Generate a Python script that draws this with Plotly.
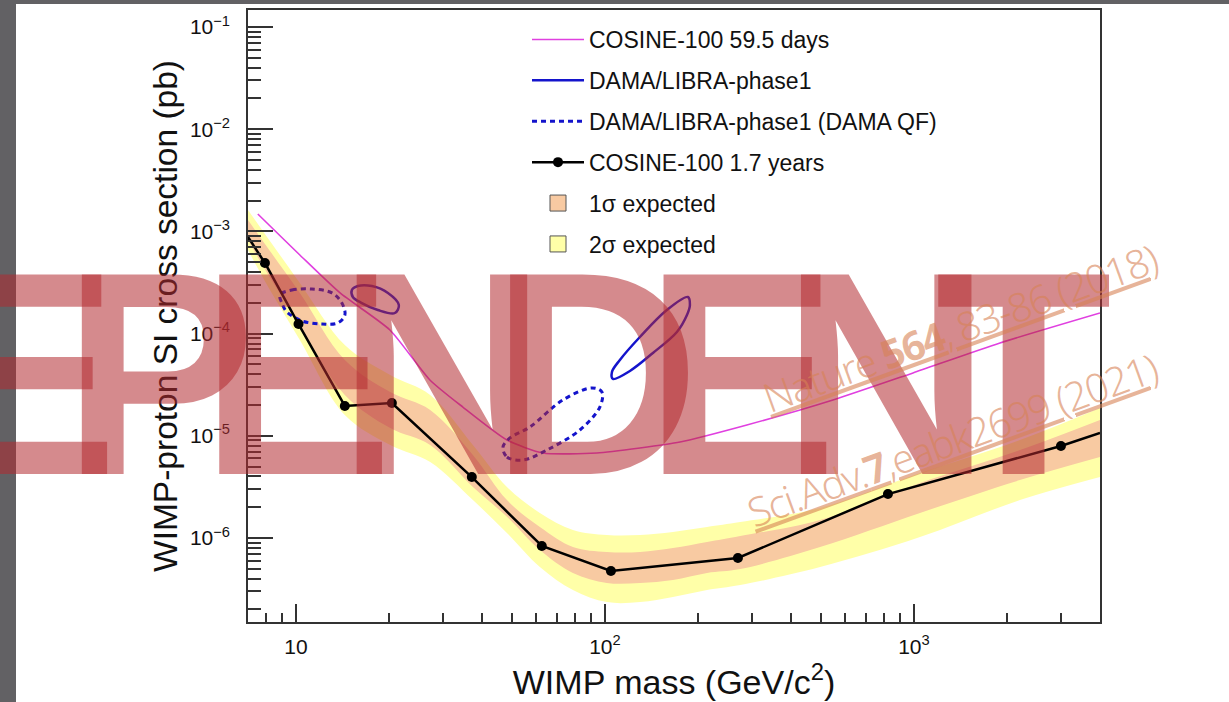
import math
import plotly.graph_objects as go

# ---------------- data ----------------
# COSINE-100 1.7 years observed limit (marked points)
obs_mass = [7.94, 10.2, 14.4, 20.45, 37.1, 62.5, 104.6, 269.4, 823.9, 2990]
obs_xsec = [4.91e-4, 1.24e-4, 1.96e-5, 2.09e-5, 3.95e-6, 8.35e-7, 4.75e-7, 6.37e-7, 2.69e-6, 7.95e-6]
# continuation of the limit curve to the frame edges
obs_edge_mass = [7.0, 4000]
obs_edge_xsec = [8.81e-4, 1.065e-5]

# COSINE-100 59.5 days limit
cos59_mass = [7.53, 10.3, 13.9, 20.15, 27.15, 34.7, 48.2, 63.0, 94.2, 129.8, 175, 288, 547, 993, 1898, 4000]
cos59_xsec = [1.48e-3, 5.88e-4, 2.50e-4, 1.085e-4, 3.52e-5, 1.91e-5, 9.1e-6, 6.79e-6, 6.79e-6,
              7.6e-6, 8.70e-6, 1.276e-5, 2.24e-5, 4.12e-5, 8.09e-5, 1.59e-4]

# DAMA/LIBRA-phase1 contours
dama_low_mass = [15.18, 15.87, 17.62, 19.86, 21.54, 20.91, 18.42, 16.35, 15.29, 15.18]
dama_low_xsec = [2.67e-4, 2.92e-4, 2.92e-4, 2.50e-4, 1.905e-4, 1.59e-4, 1.70e-4, 1.99e-4, 2.28e-4, 2.67e-4]
dama_high_mass = [106.2, 105.4, 111.8, 129.8, 158.7, 185.6, 188.4, 184.3, 171.0, 143.0, 120.5, 106.2]
dama_high_xsec = [3.60e-5, 4.21e-5, 5.52e-5, 9.26e-5, 1.70e-4, 2.28e-4, 1.905e-4, 1.52e-4, 1.037e-4,
                  6.46e-5, 4.31e-5, 3.60e-5]

# DAMA/LIBRA-phase1 (DAMA QF) contours
qf_low_mass = [8.88, 9.71, 11.26, 13.08, 14.09, 14.41, 13.67, 12.14, 10.46, 9.35, 9.01, 8.88]
qf_low_xsec = [2.39e-4, 2.67e-4, 2.73e-4, 2.50e-4, 1.99e-4, 1.52e-4, 1.27e-4, 1.24e-4, 1.33e-4,
               1.63e-4, 1.99e-4, 2.39e-4]
qf_high_mass = [46.8, 48.2, 54.3, 64.9, 83.0, 96.3, 97.8, 90.8, 73.1, 57.2, 49.3, 46.8]
qf_high_xsec = [7.77e-6, 6.20e-6, 5.80e-6, 7.26e-6, 1.14e-5, 1.91e-5, 2.68e-5, 2.94e-5, 2.24e-5,
                1.22e-5, 9.52e-6, 7.77e-6]

# expected sensitivity bands
band_mass = [7.0, 7.9, 10.3, 14.4, 20.2, 27.2, 37.4, 48.2, 61.6, 78.8, 101.5, 130, 166, 214, 274,
             497, 1046, 2203, 4000]
sig2_hi = [1.62e-3, 9.65e-4, 3.13e-4, 7.73e-5, 3.93e-5, 2.51e-5, 8.13e-6, 3.15e-6, 1.76e-6, 1.20e-6,
           1.07e-6, 1.07e-6, 1.145e-6, 1.28e-6, 1.43e-6, 1.97e-6, 4.32e-6, 9.1e-6, 1.87e-5]
sig1_hi = [1.29e-3, 7.70e-4, 2.50e-4, 5.52e-5, 2.68e-5, 1.79e-5, 6.49e-6, 2.35e-6, 1.28e-6, 8.16e-7,
           7.29e-7, 7.29e-7, 7.98e-7, 9.14e-7, 1.046e-6, 1.50e-6, 3.45e-6, 7.26e-6, 1.43e-5]
sig1_lo = [8.24e-4, 4.38e-4, 1.21e-4, 2.51e-5, 1.19e-5, 8.13e-6, 3.15e-6, 1.61e-6, 7.63e-7, 4.55e-7,
           3.63e-7, 3.63e-7, 3.88e-7, 4.55e-7, 4.97e-7, 8.16e-7, 1.76e-6, 3.69e-6, 6.20e-6]
sig2_lo = [6.58e-4, 3.35e-4, 8.66e-5, 1.60e-5, 8.13e-6, 5.54e-6, 2.35e-6, 1.12e-6, 5.20e-7, 3.10e-7,
           2.36e-7, 2.36e-7, 2.65e-7, 3.10e-7, 3.47e-7, 5.20e-7, 1.02e-6, 2.35e-6, 3.95e-6]

# axes
x_range_vals = [7.0, 4000]
y_range_vals = [1.507e-7, 0.1466]
x_tick_vals = [10, 100, 1000]
x_tick_text = ["10", "10<sup>2</sup>", "10<sup>3</sup>"]
y_tick_vals = [1e-6, 1e-5, 1e-4, 1e-3, 1e-2, 1e-1]
y_tick_text = ["10<sup>\u22126</sup>", "10<sup>\u22125</sup>", "10<sup>\u22124</sup>",
               "10<sup>\u22123</sup>", "10<sup>\u22122</sup>", "10<sup>\u22121</sup>"]
x_minor_vals = [d * 10 ** e for e in range(0, 4) for d in range(2, 10)]
y_minor_vals = [d * 10.0 ** e for e in range(-7, 0) for d in range(2, 10)]

# ---------------- styling ----------------
FONT = "Liberation Sans, Arial, Helvetica, sans-serif"
WMFONT = "Noto Sans, sans-serif"
C_SIG2 = "rgb(255,255,168)"
C_SIG1 = "rgb(248,202,162)"
C_MAG = "#e040e0"
C_BLUE = "#1414cc"

W, H = 1229, 702
ML, MR, MT, MB = 248, 129, 10, 80
PW, PH = W - ML - MR, H - MT - MB


def px(xp):
    return (xp - ML) / PW


def py(yp):
    return (H - MB - yp) / PH


fig = go.Figure()

# bands (drawn first)
fig.add_trace(go.Scatter(x=band_mass, y=sig2_lo, mode="lines", line=dict(width=0, shape="spline"),
                         showlegend=False, hoverinfo="skip"))
fig.add_trace(go.Scatter(x=band_mass, y=sig2_hi, mode="lines", line=dict(width=0, shape="spline"),
                         fill="tonexty", fillcolor=C_SIG2, showlegend=False, hoverinfo="skip"))
fig.add_trace(go.Scatter(x=band_mass, y=sig1_lo, mode="lines", line=dict(width=0, shape="spline"),
                         showlegend=False, hoverinfo="skip"))
fig.add_trace(go.Scatter(x=band_mass, y=sig1_hi, mode="lines", line=dict(width=0, shape="spline"),
                         fill="tonexty", fillcolor=C_SIG1, showlegend=False, hoverinfo="skip"))

# COSINE-100 59.5 days
fig.add_trace(go.Scatter(x=cos59_mass, y=cos59_xsec, mode="lines", name="COSINE-100 59.5 days",
                         line=dict(color=C_MAG, width=1.6, shape="spline", smoothing=0.6),
                         legendrank=1, legendgroup="a"))

# DAMA contours
fig.add_trace(go.Scatter(x=dama_low_mass + [None] + dama_high_mass,
                         y=dama_low_xsec + [None] + dama_high_xsec,
                         mode="lines", name="DAMA/LIBRA-phase1",
                         line=dict(color=C_BLUE, width=2.5, shape="spline"),
                         legendrank=2, legendgroup="b"))
fig.add_trace(go.Scatter(x=qf_low_mass + [None] + qf_high_mass,
                         y=qf_low_xsec + [None] + qf_high_xsec,
                         mode="lines", name="DAMA/LIBRA-phase1 (DAMA QF)",
                         line=dict(color=C_BLUE, width=3, dash="5px,4px", shape="spline"),
                         legendrank=3, legendgroup="c"))

# COSINE-100 1.7 years
fig.add_trace(go.Scatter(x=[obs_edge_mass[0], obs_mass[0], None, obs_mass[-1], obs_edge_mass[1]],
                         y=[obs_edge_xsec[0], obs_xsec[0], None, obs_xsec[-1], obs_edge_xsec[1]],
                         mode="lines", line=dict(color="black", width=2.5),
                         showlegend=False, hoverinfo="skip", legendgroup="d"))
fig.add_trace(go.Scatter(x=obs_mass, y=obs_xsec, mode="lines+markers", name="COSINE-100 1.7 years",
                         line=dict(color="black", width=2.5),
                         marker=dict(color="black", size=10),
                         legendrank=4, legendgroup="d"))

# legend swatches for the bands
fig.add_trace(go.Scatter(x=[None], y=[None], mode="markers", name="1\u03c3 expected",
                         marker=dict(symbol="square", size=16, color=C_SIG1,
                                     line=dict(color="#555", width=1)),
                         legendrank=5, legendgroup="e"))
fig.add_trace(go.Scatter(x=[None], y=[None], mode="markers", name="2\u03c3 expected",
                         marker=dict(symbol="square", size=16, color=C_SIG2,
                                     line=dict(color="#555", width=1)),
                         legendrank=6, legendgroup="f"))

axis_common = dict(
    type="log", showgrid=False, zeroline=False,
    showline=True, linecolor="#333", linewidth=1.5, mirror=True,
    ticks="inside", tickcolor="#333", tickwidth=1.5,
    tickfont=dict(family=FONT, size=21, color="#111"),
)

fig.update_xaxes(
    **axis_common,
    range=[math.log10(v) for v in x_range_vals],
    tickmode="array", tickvals=x_tick_vals, ticktext=x_tick_text, ticklen=18,
    ticklabelstandoff=5,
    minor=dict(tickmode="array", tickvals=x_minor_vals, ticks="inside", ticklen=9,
               tickcolor="#333", tickwidth=1.5),
    title=dict(text="WIMP mass (GeV/c<sup>2</sup>)", font=dict(family=FONT, size=34, color="#111"),
               standoff=6),
    automargin=False,
)
fig.update_yaxes(
    **axis_common,
    range=[math.log10(v) for v in y_range_vals],
    tickmode="array", tickvals=y_tick_vals, ticktext=y_tick_text, ticklen=25,
    ticklabelstandoff=12,
    minor=dict(tickmode="array", tickvals=y_minor_vals, ticks="inside", ticklen=13,
               tickcolor="#333", tickwidth=1.5),
    title=dict(text="WIMP-proton SI cross section (pb)", font=dict(family=FONT, size=33.5, color="#111"),
               standoff=2),
    automargin=False,
)

annotations = [
    dict(text="<span style='letter-spacing:-56px'>EPENDENT</span>",
         xref="paper", yref="paper", x=px(-77), y=py(373), xanchor="left", yanchor="middle",
         showarrow=False, font=dict(family=FONT, size=290, color="rgba(178,42,48,0.55)", weight=700)),
    dict(text="<span style='letter-spacing:-1.5px;text-decoration:underline'>Nature <b>564</b>, 83-86 (2018)</span>",
         xref="paper", yref="paper", x=px(960), y=py(328), xanchor="center", yanchor="middle",
         textangle=-20, showarrow=False,
         font=dict(family=WMFONT, size=40, color="rgba(215,130,85,0.6)", weight=300)),
    dict(text="<span style='letter-spacing:-1.5px;text-decoration:underline'>Sci.Adv.<b>7</b>,eabk2699 (2021)</span>",
         xref="paper", yref="paper", x=px(952), y=py(440), xanchor="center", yanchor="middle",
         textangle=-20, showarrow=False,
         font=dict(family=WMFONT, size=40, color="rgba(215,130,85,0.6)", weight=300)),
]

shapes = [
    dict(type="rect", xref="paper", yref="paper", x0=px(0), x1=px(16), y0=py(H), y1=py(0),
         fillcolor="#626164", line=dict(width=0), layer="above"),
    dict(type="rect", xref="paper", yref="paper", x0=px(0), x1=px(W), y0=py(4), y1=py(0),
         fillcolor="#626164", line=dict(width=0), layer="above"),
]

fig.update_layout(
    width=W, height=H,
    margin=dict(l=ML, r=MR, t=MT, b=MB, pad=0),
    paper_bgcolor="white", plot_bgcolor="white",
    font=dict(family=FONT, color="#111"),
    showlegend=True,
    legend=dict(x=px(527), y=py(18), xanchor="left", yanchor="top",
                bgcolor="rgba(0,0,0,0)", borderwidth=0,
                font=dict(family=FONT, size=23, color="#111"),
                tracegroupgap=8, itemwidth=52),
    annotations=annotations,
    shapes=shapes,
)

fig.write_html("out.html")
